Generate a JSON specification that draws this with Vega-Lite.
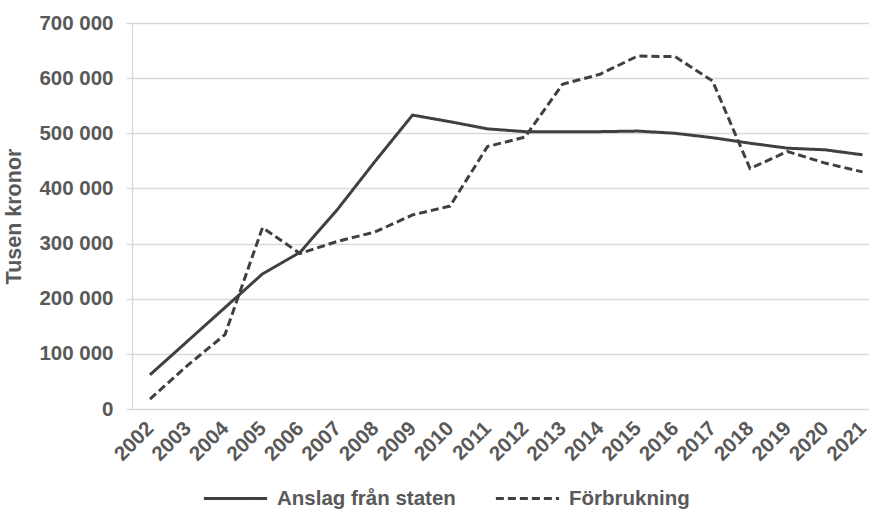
{
  "$schema": "https://vega.github.io/schema/vega-lite/v6.json",
  "autosize": "none",
  "width": 737,
  "height": 386,
  "padding": {"left": 132, "top": 23, "right": 0, "bottom": 105},
  "background": "white",
  "config": {
    "locale": {"number": {"decimal": ",", "thousands": " ", "grouping": [3], "currency": ["", " kr"]}},
    "font": "Liberation Sans",
    "view": {"stroke": null},
    "axis": {"labelFont": "Liberation Sans", "titleFont": "Liberation Sans", "labelColor": "#595959", "titleColor": "#595959", "labelFontWeight": "bold", "titleFontWeight": "bold", "labelFontSize": 20.5, "titleFontSize": 21.5}
  },
  "data": {
    "values": [
      {"year": 2002, "series": "Anslag från staten", "value": 62000},
      {"year": 2003, "series": "Anslag från staten", "value": 123000},
      {"year": 2004, "series": "Anslag från staten", "value": 184000},
      {"year": 2005, "series": "Anslag från staten", "value": 245000},
      {"year": 2006, "series": "Anslag från staten", "value": 284000},
      {"year": 2007, "series": "Anslag från staten", "value": 362000},
      {"year": 2008, "series": "Anslag från staten", "value": 449000},
      {"year": 2009, "series": "Anslag från staten", "value": 533000},
      {"year": 2010, "series": "Anslag från staten", "value": 521000},
      {"year": 2011, "series": "Anslag från staten", "value": 508000},
      {"year": 2012, "series": "Anslag från staten", "value": 503000},
      {"year": 2013, "series": "Anslag från staten", "value": 503000},
      {"year": 2014, "series": "Anslag från staten", "value": 503000},
      {"year": 2015, "series": "Anslag från staten", "value": 504000},
      {"year": 2016, "series": "Anslag från staten", "value": 500000},
      {"year": 2017, "series": "Anslag från staten", "value": 492000},
      {"year": 2018, "series": "Anslag från staten", "value": 482000},
      {"year": 2019, "series": "Anslag från staten", "value": 473000},
      {"year": 2020, "series": "Anslag från staten", "value": 470000},
      {"year": 2021, "series": "Anslag från staten", "value": 461000},
      {"year": 2002, "series": "Förbrukning", "value": 18000},
      {"year": 2003, "series": "Förbrukning", "value": 79000},
      {"year": 2004, "series": "Förbrukning", "value": 135000},
      {"year": 2005, "series": "Förbrukning", "value": 329000},
      {"year": 2006, "series": "Förbrukning", "value": 282000},
      {"year": 2007, "series": "Förbrukning", "value": 304000},
      {"year": 2008, "series": "Förbrukning", "value": 321000},
      {"year": 2009, "series": "Förbrukning", "value": 352000},
      {"year": 2010, "series": "Förbrukning", "value": 368000},
      {"year": 2011, "series": "Förbrukning", "value": 476000},
      {"year": 2012, "series": "Förbrukning", "value": 493000},
      {"year": 2013, "series": "Förbrukning", "value": 589000},
      {"year": 2014, "series": "Förbrukning", "value": 607000},
      {"year": 2015, "series": "Förbrukning", "value": 640000},
      {"year": 2016, "series": "Förbrukning", "value": 639000},
      {"year": 2017, "series": "Förbrukning", "value": 595000},
      {"year": 2018, "series": "Förbrukning", "value": 436000},
      {"year": 2019, "series": "Förbrukning", "value": 467000},
      {"year": 2020, "series": "Förbrukning", "value": 446000},
      {"year": 2021, "series": "Förbrukning", "value": 430000}
    ]
  },
  "mark": {"type": "line", "stroke": "#404040", "strokeWidth": 3, "strokeJoin": "miter"},
  "encoding": {
    "x": {
      "field": "year", "type": "quantitative",
      "scale": {"domain": [2001.52, 2021.173], "nice": false, "zero": false},
      "axis": {"title": null, "values": [2002,2003,2004,2005,2006,2007,2008,2009,2010,2011,2012,2013,2014,2015,2016,2017,2018,2019,2020,2021], "format": "d", "labelAngle": -45, "labelAlign": "right", "labelBaseline": "middle", "labelPadding": 16, "domain": false, "ticks": false, "grid": false, "labelOverlap": false, "labelBound": false, "labelFlush": false}
    },
    "y": {
      "field": "value", "type": "quantitative",
      "scale": {"domain": [0, 700000], "nice": false},
      "axis": {"title": "Tusen kronor", "values": [0,100000,200000,300000,400000,500000,600000,700000], "format": ",d", "gridColor": "#d9d9d9", "gridWidth": 1.3, "domainColor": "#d9d9d9", "domainWidth": 1.3, "tickColor": "#d9d9d9", "tickSize": 6, "tickWidth": 1.3, "labelPadding": 13, "titlePadding": 13}
    },
    "strokeDash": {
      "field": "series", "type": "nominal",
      "scale": {"domain": ["Anslag från staten", "Förbrukning"], "range": [[1, 0], [8, 4]]},
      "legend": {"title": null, "orient": "none", "legendX": 70, "legendY": 442, "direction": "horizontal", "symbolType": "stroke", "symbolSize": 4000, "symbolStrokeWidth": 3, "symbolStrokeColor": "#404040", "labelFont": "Liberation Sans", "labelFontSize": 20.5, "labelFontWeight": "bold", "labelColor": "#595959", "labelOffset": 8, "columnPadding": 33, "labelLimit": 400}
    }
  }
}
